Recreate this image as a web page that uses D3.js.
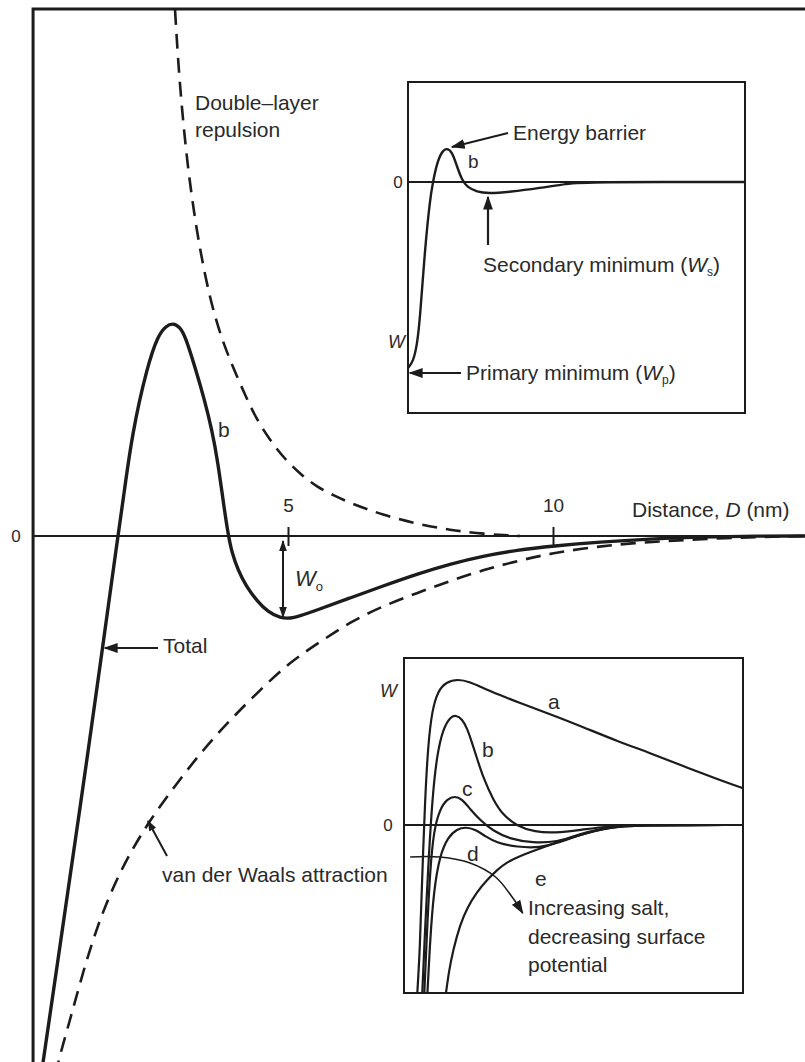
<!DOCTYPE html>
<html><head><meta charset="utf-8">
<script src="https://cdn.jsdelivr.net/npm/d3@7"></script>
<style>
body{margin:0;background:#fff;}
text{font-family:"Liberation Sans",Arial,sans-serif;fill:#2a2a2a;}
</style></head>
<body><svg id="c" width="805" height="1062"></svg>
<script>
// ---- main chart data: [D (nm), W (arb.)] ----
const xTicks = [5, 10];
const totalCurve = [[0.34,-10.8],[0.38,-10.52],[0.70,-8.18],[1.08,-5.42],[1.51,-2.18],[1.79,0],[1.89,0.72],[2.06,2.06],[2.34,3.38],[2.55,4.02],[2.70,4.2],[2.83,4.26],[2.96,4.18],[3.06,4.0],[3.245,3.38],[3.415,2.76],[3.566,2.12],[3.679,1.46],[3.774,0.72],[3.868,0.04],[3.943,-0.34],[4.057,-0.68],[4.208,-1.0],[4.415,-1.30],[4.623,-1.52],[4.849,-1.64],[5.075,-1.66],[5.547,-1.48],[6.17,-1.24],[6.79,-1.0],[7.434,-0.76],[8.057,-0.56],[8.679,-0.40],[9.32,-0.28],[10.0,-0.2],[10.89,-0.12],[11.83,-0.06],[12.77,-0.02],[13.9,0],[14.8,0]];
const doubleLayer = [[2.84,11.0],[2.868,10.54],[2.925,9.52],[3.0,8.52],[3.113,7.32],[3.283,6.06],[3.434,5.22],[3.566,4.6],[3.755,3.92],[3.962,3.38],[4.189,2.82],[4.415,2.32],[4.66,1.92],[4.906,1.58],[5.226,1.24],[5.547,0.98],[5.887,0.80],[6.17,0.66],[6.792,0.42],[7.434,0.24],[8.057,0.12],[8.679,0.04],[9.377,0]];
const vanDerWaals = [[0.62,-10.78],[0.66,-10.52],[0.887,-9.68],[1.132,-8.72],[1.396,-7.82],[1.698,-7.02],[2.019,-6.34],[2.396,-5.68],[2.906,-4.94],[3.396,-4.28],[3.906,-3.68],[4.472,-3.08],[5.038,-2.52],[5.604,-2.12],[6.17,-1.72],[6.792,-1.40],[7.434,-1.14],[8.057,-0.90],[8.679,-0.68],[9.321,-0.50],[10.0,-0.34],[10.755,-0.22],[11.51,-0.14],[12.45,-0.08],[13.72,-0.02],[14.8,0]];
// ---- upper inset curve b ----
const insetTop = [[0.0,-9.3],[0.15,-9.0],[0.27,-8.15],[0.36,-6.75],[0.50,-3.4],[0.65,-0.9],[0.74,0],[0.86,0.95],[1.01,1.55],[1.16,1.7],[1.31,1.5],[1.45,0.8],[1.60,0.1],[1.75,-0.25],[2.05,-0.5],[2.37,-0.57],[3.03,-0.5],[3.92,-0.3],[4.72,-0.08],[5.25,0],[10,0]];
// ---- lower inset curves a-e ----
const curveA = [[0.38,-8.75],[0.47,-6.25],[0.53,-2.9],[0.62,1.25],[0.71,4.0],[0.83,5.75],[1.0,6.7],[1.24,7.15],[1.59,7.3],[1.95,7.15],[2.33,6.85],[2.83,6.5],[3.33,6.15],[4.31,5.55],[5.28,4.9],[6.28,4.2],[7.26,3.6],[8.23,2.95],[9.23,2.3],[10.06,1.8]];
const curveB = [[0.53,-8.75],[0.62,-5.25],[0.71,-2.25],[0.83,1.25],[0.97,3.5],[1.15,4.8],[1.36,5.4],[1.53,5.5],[1.71,5.3],[1.86,4.85],[2.0,4.15],[2.15,3.35],[2.33,2.4],[2.63,1.25],[2.92,0.5],[3.33,-0.05],[3.86,-0.35],[4.45,-0.4],[5.19,-0.25],[6.08,-0.05],[6.96,0],[10,0]];
const curveC = [[0.59,-8.75],[0.68,-5.25],[0.77,-2.25],[0.88,-0.25],[1.06,0.8],[1.27,1.3],[1.50,1.45],[1.71,1.3],[1.95,0.8],[2.24,0.25],[2.63,-0.3],[3.13,-0.7],[3.81,-0.9],[4.51,-0.85],[5.19,-0.5],[5.93,-0.15],[6.81,0],[10,0]];
const curveD = [[0.68,-8.75],[0.77,-5.75],[0.88,-3.25],[1.06,-1.5],[1.30,-0.6],[1.56,-0.2],[1.83,-0.1],[2.09,-0.22],[2.39,-0.55],[2.74,-0.9],[3.33,-1.1],[4.01,-1.15],[4.60,-0.85],[5.19,-0.5],[5.93,-0.15],[6.81,0],[10,0]];
const curveE = [[1.21,-8.75],[1.33,-7.25],[1.45,-6.25],[1.65,-5.0],[1.86,-4.15],[2.15,-3.35],[2.45,-2.75],[2.74,-2.25],[3.04,-1.85],[3.42,-1.55],[3.81,-1.3],[4.22,-1.05],[4.60,-0.8],[5.19,-0.45],[5.78,-0.2],[6.37,-0.05],[6.96,0],[10,0]];
const saltArrow = [[0.18,-1.6],[1.06,-1.6],[1.95,-1.9],[2.7,-2.6],[3.19,-3.6],[3.5,-4.4]];

const svg = d3.select("#c");
const ink = "#1c1c1c";
const defs = svg.append("defs");
function marker(id, size){
  defs.append("marker").attr("id", id).attr("viewBox","0 0 10 10").attr("refX",9).attr("refY",5)
    .attr("markerWidth",size).attr("markerHeight",size).attr("markerUnits","userSpaceOnUse").attr("orient","auto-start-reverse")
    .append("path").attr("d","M0,1.5 L10,5 L0,8.5 Z").attr("fill", ink);
}
marker("ah", 14); marker("ahs", 11);
const FS = 21;
const smooth = d3.curveBasis;

// ---- main scales ----
const x = d3.scaleLinear().domain([0, 10]).range([23, 553]);
const y = d3.scaleLinear().domain([0, 10]).range([536, 36]);
defs.append("clipPath").attr("id","mainClip").append("rect").attr("x",33).attr("y",9).attr("width",772).attr("height",1053);
const line = d3.line().x(d => x(d[0])).y(d => y(d[1])).curve(smooth);
const g = svg.append("g");
// frame
g.append("path").attr("d", `M${x(0.19)},1062 V9 H805`).attr("fill","none").attr("stroke",ink).attr("stroke-width",3);
// zero line
g.append("line").attr("x1", 33).attr("x2", 805).attr("y1", y(0)).attr("y2", y(0)).attr("stroke", ink).attr("stroke-width", 2.2);
// ticks
const ax = g.append("g").attr("transform", `translate(0,${y(0)+10})`)
  .call(d3.axisTop(x).tickValues(xTicks).tickSize(19).tickPadding(15).tickFormat(d3.format("d")));
ax.select(".domain").remove();
ax.selectAll(".tick line").attr("stroke", ink).attr("stroke-width", 2);
ax.selectAll(".tick text").attr("font-size", 19).attr("fill","#2a2a2a").attr("font-family","Liberation Sans, Arial, sans-serif");
g.append("text").attr("x", 16).attr("y", y(0)+6).attr("text-anchor","middle").attr("font-size",17).text("0");
const axl = g.append("text").attr("x", 632).attr("y", 517).attr("font-size", FS);
axl.append("tspan").text("Distance, ");
axl.append("tspan").attr("font-style","italic").text("D");
axl.append("tspan").text(" (nm)");

const cg = g.append("g").attr("clip-path","url(#mainClip)");
cg.append("path").attr("d", line(doubleLayer)).attr("fill","none").attr("stroke",ink).attr("stroke-width",2.6).attr("stroke-dasharray","15,9");
cg.append("path").attr("d", line(vanDerWaals)).attr("fill","none").attr("stroke",ink).attr("stroke-width",2.6).attr("stroke-dasharray","15,9");
cg.append("path").attr("d", line(totalCurve)).attr("fill","none").attr("stroke",ink).attr("stroke-width",3.4);

// annotations main
const dl = g.append("text").attr("x",195).attr("y",110).attr("font-size",FS);
dl.append("tspan").attr("x",195).text("Double–layer");
dl.append("tspan").attr("x",195).attr("dy",27).text("repulsion");
g.append("text").attr("x",218).attr("y",437).attr("font-size",FS).text("b");
g.append("text").attr("x",163).attr("y",653).attr("font-size",FS).text("Total");
g.append("line").attr("x1",158).attr("y1",648).attr("x2",105).attr("y2",648).attr("stroke",ink).attr("stroke-width",2).attr("marker-end","url(#ah)");
g.append("text").attr("x",162).attr("y",882).attr("font-size",FS).text("van der Waals attraction");
g.append("line").attr("x1",167).attr("y1",856).attr("x2",148).attr("y2",821).attr("stroke",ink).attr("stroke-width",2).attr("marker-end","url(#ahs)");
g.append("line").attr("x1",283).attr("y1",541).attr("x2",283).attr("y2",617).attr("stroke",ink).attr("stroke-width",2)
  .attr("marker-start","url(#ahs)").attr("marker-end","url(#ahs)");
const w0 = g.append("text").attr("x",295).attr("y",586).attr("font-size",22);
w0.append("tspan").attr("font-style","italic").text("W");
w0.append("tspan").attr("font-size",13).attr("dy",5).text("o");

// ---- upper inset ----
const ix = d3.scaleLinear().domain([0,10]).range([408,745]);
const iy = d3.scaleLinear().domain([0,1]).range([182,162]);
const ig = svg.append("g");
defs.append("clipPath").attr("id","c1").append("rect").attr("x",408).attr("y",82).attr("width",337).attr("height",331);
ig.append("rect").attr("x",408).attr("y",82).attr("width",337).attr("height",331).attr("fill","#fff").attr("stroke",ink).attr("stroke-width",2);
ig.append("line").attr("x1",408).attr("x2",745).attr("y1",iy(0)).attr("y2",iy(0)).attr("stroke",ink).attr("stroke-width",2);
const iline = d3.line().x(d => ix(d[0])).y(d => iy(d[1])).curve(smooth);
ig.append("path").attr("clip-path","url(#c1)").attr("d", iline(insetTop)).attr("fill","none").attr("stroke",ink).attr("stroke-width",2.4);
ig.append("text").attr("x",398).attr("y",188).attr("text-anchor","middle").attr("font-size",17).text("0");
ig.append("text").attr("x",388).attr("y",348).attr("font-size",18).attr("font-style","italic").text("W");
ig.append("text").attr("x",468).attr("y",168).attr("font-size",19).text("b");
ig.append("text").attr("x",513).attr("y",140).attr("font-size",FS).text("Energy barrier");
ig.append("line").attr("x1",508).attr("y1",133).attr("x2",452).attr("y2",147).attr("stroke",ink).attr("stroke-width",2).attr("marker-end","url(#ah)");
const sm = ig.append("text").attr("x",483).attr("y",272).attr("font-size",FS);
sm.append("tspan").text("Secondary minimum (");
sm.append("tspan").attr("font-style","italic").text("W");
sm.append("tspan").attr("font-size",12).attr("dy",4).text("s");
sm.append("tspan").attr("dy",-4).text(")");
ig.append("line").attr("x1",488).attr("y1",245).attr("x2",488).attr("y2",197).attr("stroke",ink).attr("stroke-width",2.2).attr("marker-end","url(#ah)");
const pm = ig.append("text").attr("x",466).attr("y",380).attr("font-size",FS);
pm.append("tspan").text("Primary minimum (");
pm.append("tspan").attr("font-style","italic").text("W");
pm.append("tspan").attr("font-size",12).attr("dy",4).text("p");
pm.append("tspan").attr("dy",-4).text(")");
ig.append("line").attr("x1",461).attr("y1",373).attr("x2",410).attr("y2",373).attr("stroke",ink).attr("stroke-width",2).attr("marker-end","url(#ah)");

// ---- lower inset ----
const jx = d3.scaleLinear().domain([0,10]).range([404,743]);
const jy = d3.scaleLinear().domain([0,1]).range([825,805]);
const jg = svg.append("g");
defs.append("clipPath").attr("id","c2").append("rect").attr("x",404).attr("y",658).attr("width",339).attr("height",335);
jg.append("rect").attr("x",404).attr("y",658).attr("width",339).attr("height",335).attr("fill","#fff").attr("stroke",ink).attr("stroke-width",2);
jg.append("line").attr("x1",404).attr("x2",743).attr("y1",jy(0)).attr("y2",jy(0)).attr("stroke",ink).attr("stroke-width",2);
const jline = d3.line().x(d => jx(d[0])).y(d => jy(d[1])).curve(smooth);
const jc = jg.append("g").attr("clip-path","url(#c2)");
[curveA, curveB, curveC, curveD, curveE].forEach(c => {
  jc.append("path").attr("d", jline(c)).attr("fill","none").attr("stroke",ink).attr("stroke-width",2.2);
});
jg.append("path").attr("d", d3.line().x(d => jx(d[0])).y(d => jy(d[1])).curve(d3.curveCatmullRom.alpha(0.5))(saltArrow))
  .attr("fill","none").attr("stroke",ink).attr("stroke-width",1.6).attr("marker-end","url(#ah)");
jg.append("text").attr("x",388).attr("y",831).attr("text-anchor","middle").attr("font-size",17).text("0");
jg.append("text").attr("x",380).attr("y",697).attr("font-size",18).attr("font-style","italic").text("W");
[["a",548,709],["b",482,757],["c",462,796],["d",467,861],["e",535,886]].forEach(l => {
  jg.append("text").attr("x",l[1]).attr("y",l[2]).attr("font-size",FS).text(l[0]);
});
const st = jg.append("text").attr("x",528).attr("y",915).attr("font-size",FS);
st.append("tspan").attr("x",528).text("Increasing salt,");
st.append("tspan").attr("x",528).attr("dy",29).text("decreasing surface");
st.append("tspan").attr("x",528).attr("dy",28).text("potential");
</script></body></html>
